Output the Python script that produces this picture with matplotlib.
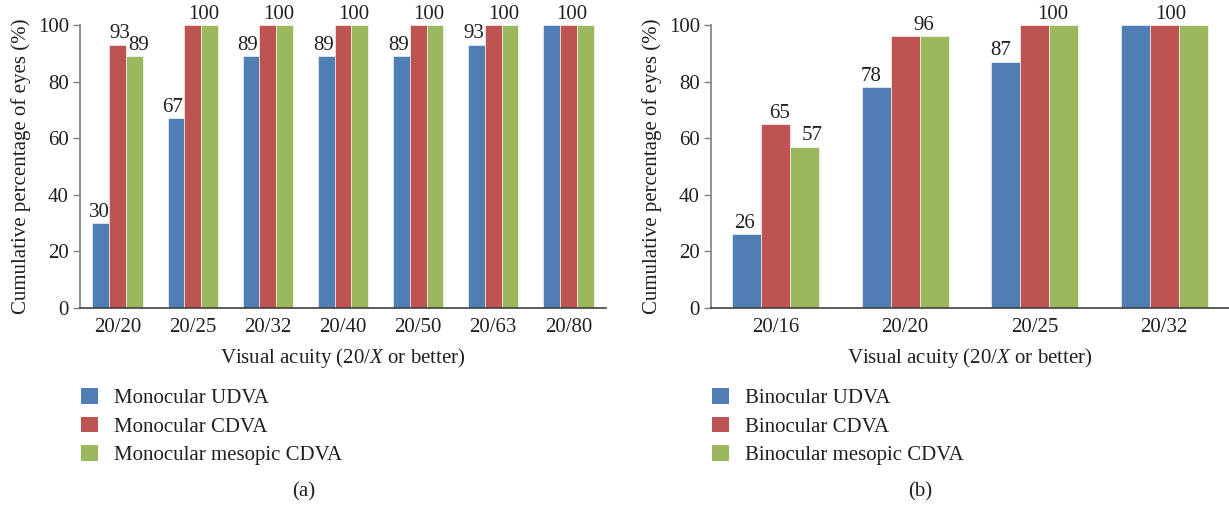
import numpy as np
import matplotlib
matplotlib.use("Agg")
import matplotlib.pyplot as plt
from matplotlib.patches import Patch

plt.rcParams['font.family'] = ['Liberation Serif', 'DejaVu Serif']
plt.rcParams['mathtext.fontset'] = 'custom'
plt.rcParams['mathtext.rm'] = 'Liberation Serif'
plt.rcParams['mathtext.it'] = 'Liberation Serif:italic'

# panel (a): monocular
mono_labels = ['20/20', '20/25', '20/32', '20/40', '20/50', '20/63', '20/80']
mono_udva = [30, 67, 89, 89, 89, 93, 100]
mono_cdva = [93, 100, 100, 100, 100, 100, 100]
mono_mesopic = [89, 100, 100, 100, 100, 100, 100]

# panel (b): binocular
bino_labels = ['20/16', '20/20', '20/25', '20/32']
bino_udva = [26, 78, 87, 100]
bino_cdva = [65, 96, 100, 100]
bino_mesopic = [57, 96, 100, 100]

colors = ['#4F7EB5', '#BD5452', '#9BB85E']
text_color = '#231F20'
bar_w = 0.223
fs = 15


def draw_panel(ax, cats, series):
    x = np.arange(len(cats))
    offsets = [-bar_w, 0, bar_w]
    for s, off, c in zip(series, offsets, colors):
        ax.bar(x + off, s, width=bar_w, color=c, edgecolor='white', linewidth=0.4)

    # value labels, one per distinct height in the group
    for i in range(len(cats)):
        u, r, g = series[0][i], series[1][i], series[2][i]
        if u == r == g:
            marks = [(x[i] + 0.05, u)]
        elif r == g:
            marks = [(x[i] - bar_w - 0.04, u), (x[i] + bar_w / 2 + 0.03, r)]
        else:
            marks = [(x[i] - bar_w - 0.02, u), (x[i] + 0.03, r), (x[i] + bar_w + 0.06, g)]
        for xx, v in marks:
            ax.annotate(str(v), (xx, v), xytext=(0, 1), textcoords='offset points',
                        ha='center', va='bottom', fontsize=fs, color=text_color,
                        annotation_clip=False)

    ax.set_xlim(-0.5, len(cats) - 0.5)
    ax.set_ylim(0, 100)
    ax.set_yticks(range(0, 101, 20))
    ax.set_xticks(x)
    ax.set_xticklabels(cats)
    ax.tick_params(axis='x', length=0, pad=7, labelsize=fs, colors=text_color)
    ax.tick_params(axis='y', length=5, width=1, pad=3, labelsize=fs,
                   color='#7F7F7F', labelcolor=text_color)
    for side in ['top', 'right']:
        ax.spines[side].set_visible(False)
    ax.spines['left'].set_color('#7F7F7F')
    ax.spines['left'].set_linewidth(1.2)
    ax.spines['bottom'].set_color('#404040')
    ax.spines['bottom'].set_linewidth(1.2)
    ax.set_ylabel('Cumulative percentage of eyes (%)', fontsize=fs, color=text_color, labelpad=5)
    ax.set_xlabel('Visual acuity (20/$\\mathit{X}$ or better)', fontsize=fs,
                  color=text_color, labelpad=7)


fig = plt.figure(figsize=(12.29, 5.07), dpi=100)
ax1 = fig.add_axes([80 / 1229, 199 / 507, 526 / 1229, 283 / 507])
ax2 = fig.add_axes([711 / 1229, 199 / 507, 518 / 1229, 283 / 507])

draw_panel(ax1, mono_labels, [mono_udva, mono_cdva, mono_mesopic])
draw_panel(ax2, bino_labels, [bino_udva, bino_cdva, bino_mesopic])

for names, x0, tag, xc in [(['Monocular UDVA', 'Monocular CDVA', 'Monocular mesopic CDVA'], 81 / 1229, '(a)', 304 / 1229),
                           (['Binocular UDVA', 'Binocular CDVA', 'Binocular mesopic CDVA'], 712 / 1229, '(b)', 920 / 1229)]:
    handles = [Patch(facecolor=c, edgecolor='none') for c in colors]
    fig.legend(handles, names, loc='upper left', bbox_to_anchor=(x0, 1 - 388 / 507),
               frameon=False, fontsize=fs, handlelength=0.8, handleheight=0.8,
               handletextpad=0.8, labelspacing=0.4, borderaxespad=0, borderpad=0,
               labelcolor=text_color)
    fig.text(xc, 1 - 492 / 507, tag, ha='center', va='center', fontsize=fs, color=text_color)

fig.savefig('out.png', dpi=100)
